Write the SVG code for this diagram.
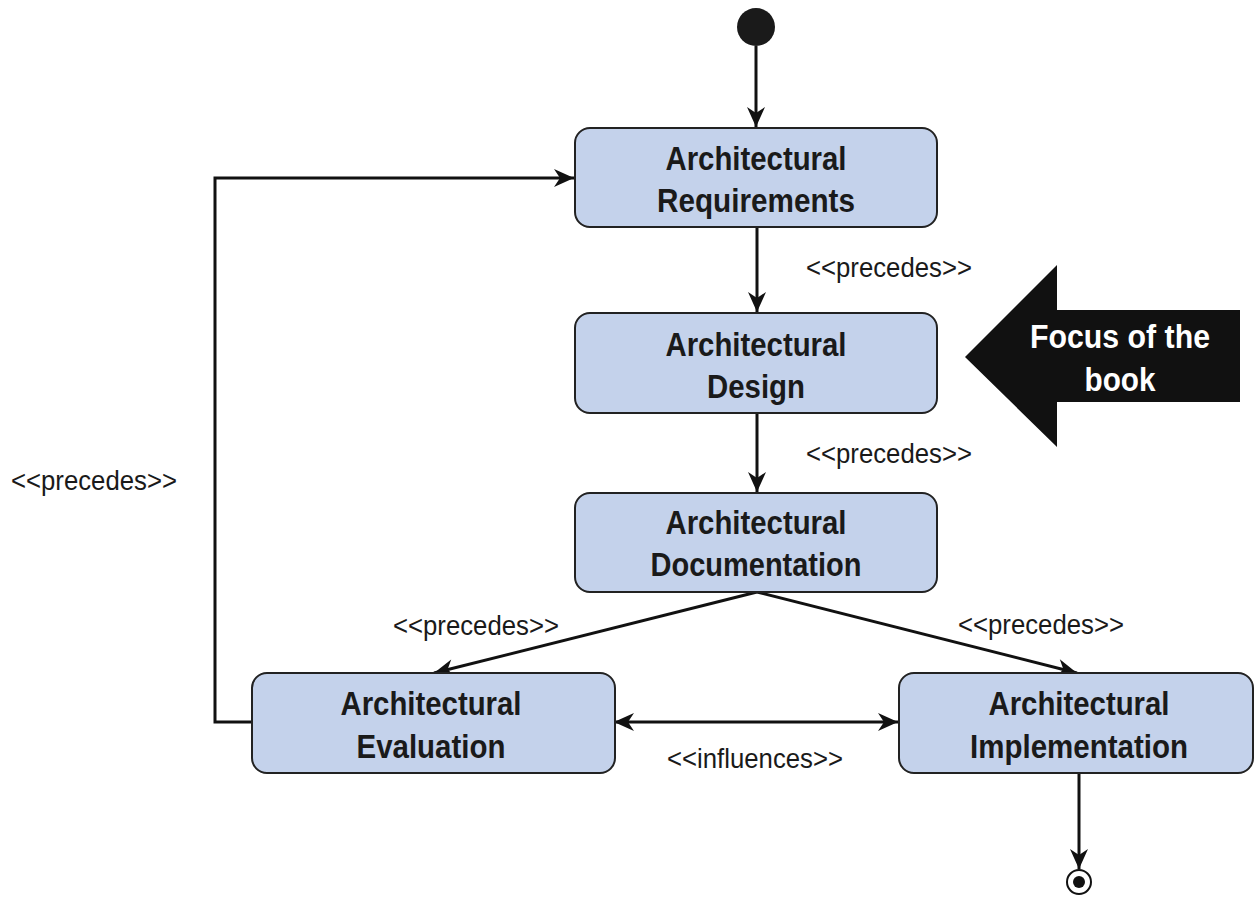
<svg xmlns="http://www.w3.org/2000/svg" width="1255" height="897" viewBox="0 0 1255 897">
<style>
.box{fill:#c4d2eb;stroke:#222;stroke-width:2}
.bt{font-family:"Liberation Sans",Arial,sans-serif;font-weight:bold;font-size:33px;fill:#1a1a1a;text-anchor:middle}
.lbl{font-family:"Liberation Sans",Arial,sans-serif;font-size:27px;fill:#1a1a1a;text-anchor:middle}
.con{fill:none;stroke:#111;stroke-width:3}
.ft{font-family:"Liberation Sans",Arial,sans-serif;font-weight:bold;font-size:34px;fill:#fff;text-anchor:middle}
</style>
<defs>
<marker id="ah" markerUnits="userSpaceOnUse" markerWidth="24" markerHeight="24" viewBox="-22 -12 24 24" refX="0" refY="0" orient="auto-start-reverse">
<path d="M0,0 L-20,-9 L-14,0 L-20,9 Z" fill="#111"/>
</marker>
</defs>
<g id="start"><circle cx="756" cy="27" r="19" fill="#1a1a1a"/></g>
<g id="end"><circle cx="1079" cy="882" r="12" fill="#fff" stroke="#111" stroke-width="2"/><circle cx="1079" cy="882" r="6" fill="#111"/></g>
<g id="connectors">
<line class="con" x1="756" y1="46" x2="756" y2="127" marker-end="url(#ah)"/>
<line class="con" x1="757" y1="228" x2="757" y2="312" marker-end="url(#ah)"/>
<line class="con" x1="757" y1="413" x2="757" y2="492" marker-end="url(#ah)"/>
<line class="con" x1="757" y1="592" x2="434" y2="673" marker-end="url(#ah)"/>
<line class="con" x1="757" y1="592" x2="1077" y2="673" marker-end="url(#ah)"/>
<line class="con" x1="614" y1="722" x2="898" y2="722" marker-start="url(#ah)" marker-end="url(#ah)"/>
<polyline class="con" points="252,722 215,722 215,178 574,178" marker-end="url(#ah)"/>
<line class="con" x1="1079" y1="773" x2="1079" y2="869" marker-end="url(#ah)"/>
<text class="lbl" x="889" y="277" textLength="166" lengthAdjust="spacingAndGlyphs">&lt;&lt;precedes&gt;&gt;</text>
<text class="lbl" x="889" y="463" textLength="166" lengthAdjust="spacingAndGlyphs">&lt;&lt;precedes&gt;&gt;</text>
<text class="lbl" x="476" y="635" textLength="166" lengthAdjust="spacingAndGlyphs">&lt;&lt;precedes&gt;&gt;</text>
<text class="lbl" x="1041" y="634" textLength="166" lengthAdjust="spacingAndGlyphs">&lt;&lt;precedes&gt;&gt;</text>
<text class="lbl" x="94" y="490" textLength="166" lengthAdjust="spacingAndGlyphs">&lt;&lt;precedes&gt;&gt;</text>
<text class="lbl" x="755" y="768" textLength="176" lengthAdjust="spacingAndGlyphs">&lt;&lt;influences&gt;&gt;</text>
</g>
<g id="requirements">
<rect class="box" x="575" y="128" width="362" height="99" rx="15"/>
<text class="bt" x="756" y="170" textLength="181" lengthAdjust="spacingAndGlyphs">Architectural</text>
<text class="bt" x="756" y="212" textLength="198" lengthAdjust="spacingAndGlyphs">Requirements</text>
</g>
<g id="design">
<rect class="box" x="575" y="313" width="362" height="100" rx="15"/>
<text class="bt" x="756" y="356" textLength="181" lengthAdjust="spacingAndGlyphs">Architectural</text>
<text class="bt" x="756" y="398" textLength="98" lengthAdjust="spacingAndGlyphs">Design</text>
</g>
<g id="documentation">
<rect class="box" x="575" y="493" width="362" height="99" rx="15"/>
<text class="bt" x="756" y="534" textLength="181" lengthAdjust="spacingAndGlyphs">Architectural</text>
<text class="bt" x="756" y="576" textLength="211" lengthAdjust="spacingAndGlyphs">Documentation</text>
</g>
<g id="evaluation">
<rect class="box" x="252" y="673" width="363" height="100" rx="15"/>
<text class="bt" x="431" y="715" textLength="181" lengthAdjust="spacingAndGlyphs">Architectural</text>
<text class="bt" x="431" y="758" textLength="149" lengthAdjust="spacingAndGlyphs">Evaluation</text>
</g>
<g id="implementation">
<rect class="box" x="899" y="673" width="354" height="100" rx="15"/>
<text class="bt" x="1079" y="715" textLength="181" lengthAdjust="spacingAndGlyphs">Architectural</text>
<text class="bt" x="1079" y="758" textLength="218" lengthAdjust="spacingAndGlyphs">Implementation</text>
</g>
<g id="focus">
<polygon points="965,357 1057,265 1057,310 1240,310 1240,402 1057,402 1057,447" fill="#111"/>
<text class="ft" x="1120" y="348" textLength="180" lengthAdjust="spacingAndGlyphs">Focus of the</text>
<text class="ft" x="1120" y="391" textLength="71" lengthAdjust="spacingAndGlyphs">book</text>
</g>
</svg>
